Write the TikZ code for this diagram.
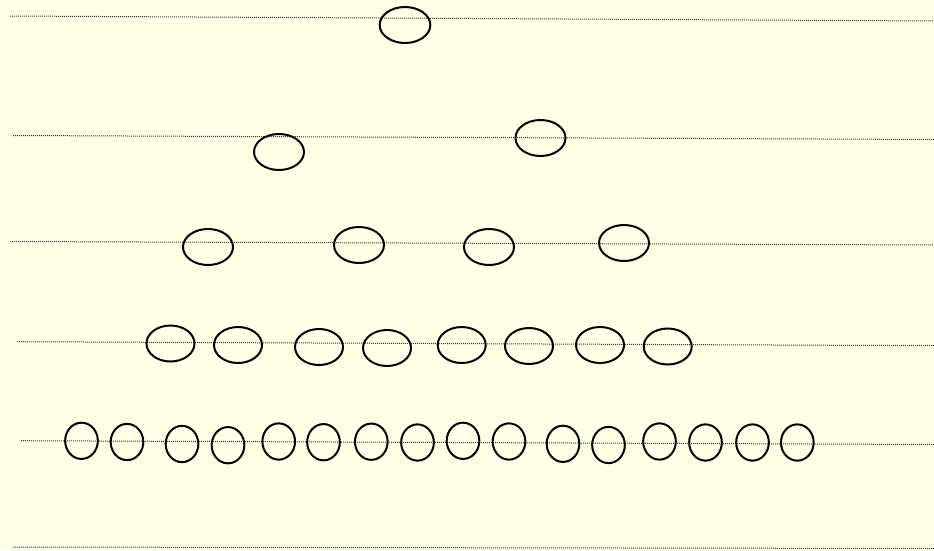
\documentclass[tikz,border=0pt]{standalone}
\usepackage{xcolor}
\usepackage{tikz}
\usetikzlibrary{shapes.geometric}
\definecolor{PaperSoft}{HTML}{FFFFE6}
\definecolor{GuideLine}{HTML}{3C3C3C}

\begin{document}
\begin{tikzpicture}[x=0.75pt, y=-0.75pt,
  guide/.style={draw=GuideLine, line width=0.75pt, dash pattern=on 0.75pt off 0.75pt},
  cell/.style={draw=black, ellipse, line width=1.5pt, inner sep=0pt, minimum width=37.5pt, minimum height=27pt},
  widecell/.style={cell, minimum width=36pt},
  smallcell/.style={cell, minimum width=24.5pt, minimum height=27.2pt}]
  \fill[PaperSoft] (0,0) rectangle (934,550);
  \useasboundingbox (0,0) rectangle (934,550);
  \coordinate (l1a) at (10,16);    \coordinate (l1b) at (934,21);
  \coordinate (l2a) at (13,135.5); \coordinate (l2b) at (934,139.5);
  \coordinate (l3a) at (10,241.5); \coordinate (l3b) at (934,245);
  \coordinate (l4a) at (17,341.7); \coordinate (l4b) at (934,345.7);
  \coordinate (l5a) at (21,440.7); \coordinate (l5b) at (934,444.5);
  \coordinate (l6a) at (13,547);   \coordinate (l6b) at (934,548.5);
  \draw[guide] (l1a) -- (l1b);
  \draw[guide] (l2a) -- (l2b);
  \draw[guide] (l3a) -- (l3b);
  \draw[guide] (l4a) -- (l4b);
  \draw[guide] (l5a) -- (l5b);
  \draw[guide] (l6a) -- (l6b);
  \node[cell, minimum width=38pt] (root) at (405,25) {};
  \node[cell] (r2a) at (279,152) {};
  \node[cell] (r2b) at (540.5,138) {};
  \node[cell] (r3a) at (208,247) {};
  \node[cell] (r3b) at (359,245) {};
  \node[cell] (r3c) at (489,247) {};
  \node[cell] (r3d) at (624,243) {};
  \foreach \x/\y [count=\i] in {170.5/343.5, 238/345, 319/347, 387/348, 461.7/345, 529/346, 600/345, 667.7/346.5}
    \node[widecell] (r4-\i) at (\x,\y) {};
  \foreach \x/\y [count=\i] in {81.5/440.8, 127/442, 182/444, 228/445.2, 278.7/441.5, 323.5/442.2, 371.3/441.7, 417.5/442.5, 463/440.8, 509/441.5, 563/443.8, 608.5/445, 659.5/441.5, 705.5/442.5, 752.5/442.5, 797.3/442.5}
    \node[smallcell] (r5-\i) at (\x,\y) {};
\end{tikzpicture}
\end{document}
